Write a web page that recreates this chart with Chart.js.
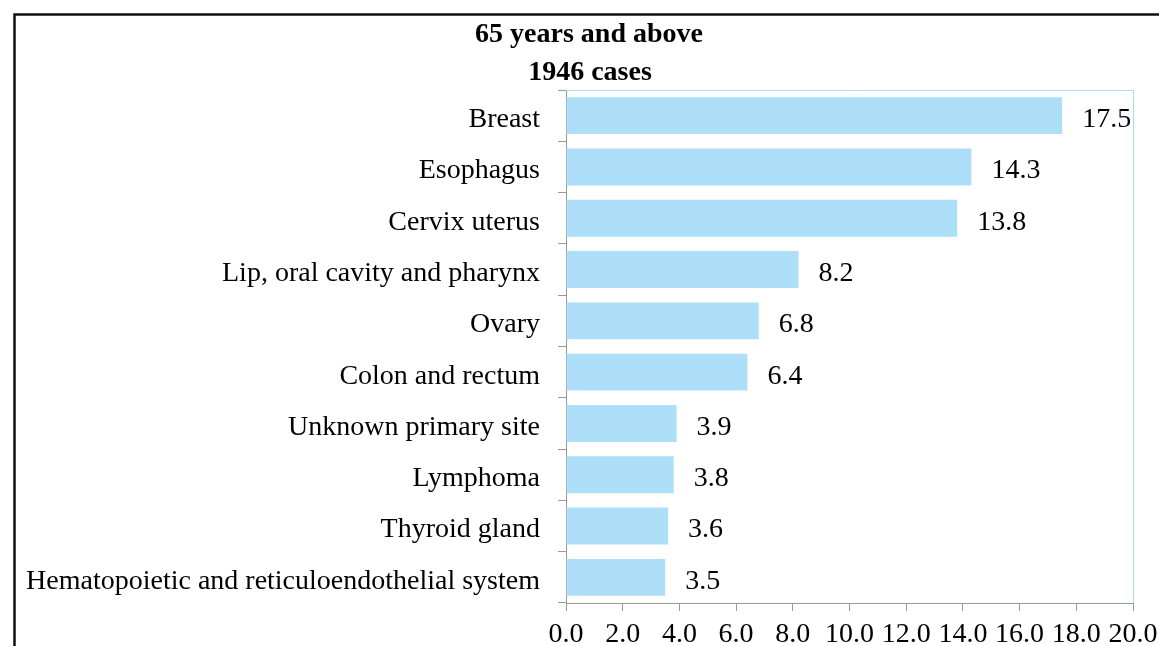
<!DOCTYPE html>
<html>
<head>
<meta charset="utf-8">
<script src="https://cdn.jsdelivr.net/npm/chart.js@4"></script>
<style>
  html, body { margin: 0; padding: 0; background: #fff; }
  #wrap { width: 1159px; height: 646px; }
</style>
</head>
<body>
<div id="wrap"><canvas id="siteChart" width="1159" height="646"></canvas></div>
<script>
// Cancer sites, 65 years and above
const sites = [
  'Breast', 'Esophagus', 'Cervix uterus', 'Lip, oral cavity and pharynx', 'Ovary',
  'Colon and rectum', 'Unknown primary site', 'Lymphoma', 'Thyroid gland',
  'Hematopoietic and reticuloendothelial system'
];
const percents = [17.5, 14.3, 13.8, 8.2, 6.8, 6.4, 3.9, 3.8, 3.6, 3.5];
const titleLines = ['65 years and above', '1946 cases'];

const serif = '"Liberation Serif", "Times New Roman", serif';

// black frame, title, plot border and value labels
const decor = {
  id: 'decor',
  beforeDraw(chart) {
    const c = chart.ctx;
    c.save();
    c.fillStyle = '#fff';
    c.fillRect(0, 0, chart.width, chart.height);
    c.strokeStyle = '#111';
    c.lineWidth = 2.5;
    c.beginPath();
    c.moveTo(chart.width, 14.5);
    c.lineTo(14.5, 14.5);
    c.lineTo(14.5, chart.height);
    c.stroke();
    c.restore();
  },
  afterDraw(chart) {
    const c = chart.ctx;
    const a = chart.chartArea;
    c.save();
    c.strokeStyle = '#a9dcf4';
    c.lineWidth = 1;
    c.beginPath();
    c.moveTo(a.left, a.top + 0.5);
    c.lineTo(a.right + 0.5, a.top + 0.5);
    c.lineTo(a.right + 0.5, a.bottom);
    c.stroke();

    c.fillStyle = '#000';
    c.font = 'bold 28px ' + serif;
    c.textAlign = 'center';
    c.textBaseline = 'middle';
    c.fillText(titleLines[0], 589, 35);
    c.fillText(titleLines[1], 590, 73);

    c.font = '28px ' + serif;
    c.textAlign = 'left';
    const meta = chart.getDatasetMeta(0);
    meta.data.forEach((bar, i) => {
      c.fillText(percents[i].toFixed(1), bar.x + 20, bar.y + 4);
    });
    c.restore();
  }
};

new Chart(document.getElementById('siteChart'), {
  type: 'bar',
  data: {
    labels: sites,
    datasets: [{
      data: percents,
      backgroundColor: '#addff8',
      barPercentage: 0.72,
      categoryPercentage: 1.0
    }]
  },
  options: {
    indexAxis: 'y',
    responsive: false,
    animation: false,
    layout: { padding: { top: 90, right: 26, left: 0, bottom: 0 } },
    plugins: {
      legend: { display: false },
      tooltip: { enabled: false },
      title: { display: false }
    },
    scales: {
      x: {
        min: 0,
        max: 20,
        afterFit(s) { s.height = 43; s.paddingRight = 0; },
        ticks: {
          stepSize: 2,
          color: '#000',
          font: { family: serif, size: 28 },
          padding: 7,
          maxRotation: 0,
          autoSkip: false,
          callback: v => Number(v).toFixed(1)
        },
        grid: { drawOnChartArea: false, tickLength: 8, color: '#999' },
        border: { color: '#999' }
      },
      y: {
        afterFit(s) { s.width = 566; },
        ticks: {
          color: '#000',
          font: { family: serif, size: 28 },
          padding: 18,
          labelOffset: 4,
          autoSkip: false
        },
        grid: { drawOnChartArea: false, tickLength: 8, color: '#999', offset: true },
        border: { color: '#999' }
      }
    }
  },
  plugins: [decor]
});
</script>
</body>
</html>
